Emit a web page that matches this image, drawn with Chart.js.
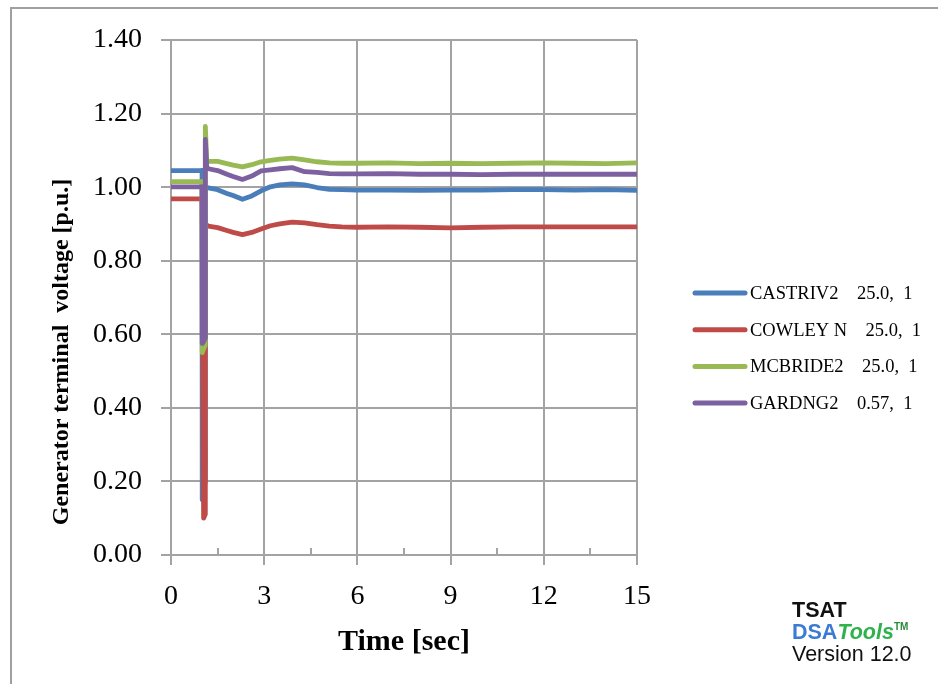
<!DOCTYPE html>
<html><head><meta charset="utf-8">
<script src="https://cdn.jsdelivr.net/npm/chart.js@4.4.1/dist/chart.umd.min.js"></script>
<style>
html,body{margin:0;padding:0;background:#fff;}
#wrap{position:relative;width:938px;height:684px;overflow:hidden;background:#fff;}
#frame{position:absolute;left:10px;top:7px;width:940px;height:690px;border-left:2px solid #a0a0a0;border-top:2px solid #a0a0a0;}
canvas{position:absolute;left:0;top:0;}
#logo{position:absolute;left:792px;top:599px;font-family:"Liberation Sans",Arial,sans-serif;font-size:21.5px;line-height:22px;color:#111;}
#logo sup{font-size:10px;vertical-align:9px;line-height:0;}
</style></head>
<body><div id="wrap"><div id="frame"></div><canvas id="c" width="938" height="684"></canvas>
<div id="logo"><div style="font-weight:bold">TSAT</div><div style="font-weight:bold"><span style="color:#3b7bd4">DSA</span><span style="color:#2fb24c;font-style:italic">Tools</span><sup style="color:#2a8a3a">TM</sup></div><div>Version 12.0</div></div>
</div>
<script>
// ---- data ----
const time     = [0, 0.5, 1.0, 1.005, 1.05, 1.1, 1.105, 1.15, 1.2, 1.5, 1.8, 2.0, 2.3, 2.6, 2.9, 3.2, 3.5, 3.9, 4.3, 4.7, 5.1, 5.5, 6, 7, 8, 9, 10, 11, 12, 13, 14, 15];
const castriv2 = [1.045, 1.045, 1.045, 0.15, 0.17, 0.20, 1.000, 1.000, 0.998, 0.993, 0.983, 0.977, 0.967, 0.976, 0.990, 1.001, 1.006, 1.009, 1.006, 0.999, 0.994, 0.993, 0.992, 0.992, 0.991, 0.992, 0.992, 0.993, 0.993, 0.992, 0.993, 0.991];
const cowleyN  = [0.968, 0.968, 0.968, 0.968, 0.10, 0.11, 0.900, 0.897, 0.894, 0.890, 0.882, 0.877, 0.871, 0.877, 0.886, 0.895, 0.900, 0.905, 0.903, 0.898, 0.894, 0.892, 0.891, 0.892, 0.891, 0.889, 0.891, 0.892, 0.892, 0.892, 0.892, 0.892];
const mcbride2 = [1.015, 1.015, 1.015, 0.55, 0.56, 0.57, 1.165, 1.075, 1.070, 1.070, 1.064, 1.060, 1.055, 1.061, 1.069, 1.073, 1.076, 1.079, 1.074, 1.069, 1.066, 1.065, 1.065, 1.066, 1.064, 1.065, 1.064, 1.065, 1.066, 1.065, 1.064, 1.066];
const gardng2  = [1.001, 1.001, 1.001, 0.575, 0.58, 0.59, 1.130, 1.055, 1.050, 1.045, 1.035, 1.029, 1.021, 1.030, 1.044, 1.047, 1.050, 1.053, 1.042, 1.040, 1.037, 1.036, 1.036, 1.037, 1.035, 1.035, 1.034, 1.035, 1.035, 1.035, 1.035, 1.035];
const seriesNames = ['CASTRIV2    25.0,  1', 'COWLEY N    25.0,  1', 'MCBRIDE2    25.0,  1', 'GARDNG2    0.57,  1'];
const xTickValues = [0, 3, 6, 9, 12, 15];
const xMinorTicks = [1.5, 4.5, 7.5, 10.5, 13.5];
const yTickValues = [0, 0.2, 0.4, 0.6, 0.8, 1.0, 1.2, 1.4];
const xTitle = 'Time [sec]';
const yTitle = 'Generator terminal  voltage [p.u.]';

const colors = ['#4A7EBB', '#BE4B48', '#98B954', '#7D60A0'];
const gridColor = '#a3a3a3';
const series = [castriv2, cowleyN, mcbride2, gardng2];

const datasets = series.map((vals, i) => ({
  label: seriesNames[i],
  data: time.map((t, j) => ({x: t, y: vals[j]})),
  borderColor: colors[i],
  backgroundColor: colors[i],
  borderWidth: 4.8,
  pointRadius: 0,
  tension: 0,
  fill: false,
  order: series.length - i,
  borderJoinStyle: 'round'
}));

const extras = {
  id: 'extras',
  afterDraw(chart) {
    const ctx = chart.ctx;
    const xs = chart.scales.x;
    const ca = chart.chartArea;
    ctx.save();
    // minor ticks (inside)
    ctx.strokeStyle = gridColor; ctx.lineWidth = 2;
    xMinorTicks.forEach(v => {
      const px = Math.round(xs.getPixelForValue(v));
      ctx.beginPath(); ctx.moveTo(px, ca.bottom); ctx.lineTo(px, ca.bottom - 7); ctx.stroke();
    });
    // y title
    ctx.fillStyle = '#000';
    ctx.font = 'bold 24px "Liberation Serif"';
    ctx.textAlign = 'center'; ctx.textBaseline = 'middle';
    ctx.translate(62, 352); ctx.rotate(-Math.PI / 2);
    ctx.fillText(yTitle, 0, 0);
    ctx.restore();
    // legend
    ctx.save();
    chart.data.datasets.forEach((ds, i) => {
      const y = 293 + i * 36.7;
      ctx.strokeStyle = ds.borderColor; ctx.lineWidth = 5; ctx.lineCap = 'round';
      ctx.beginPath(); ctx.moveTo(695, y); ctx.lineTo(745, y); ctx.stroke();
      ctx.fillStyle = '#000'; ctx.font = '18.5px "Liberation Serif"';
      ctx.textAlign = 'left'; ctx.textBaseline = 'middle';
      ctx.fillText(ds.label, 750, y + 1);
    });
    ctx.restore();
  }
};

new Chart(document.getElementById('c'), {
  type: 'line',
  data: {datasets},
  options: {
    responsive: false, animation: false, devicePixelRatio: 1,
    layout: {padding: {top: 40, right: 301, bottom: 0, left: 0}},
    plugins: {legend: {display: false}, tooltip: {enabled: false}},
    scales: {
      x: {
        type: 'linear', min: 0, max: 15,
        afterBuildTicks: s => { s.ticks = xTickValues.map(v => ({value: v})); },
        afterFit: s => { s.height = 129; },
        ticks: {font: {family: 'Liberation Serif', size: 28}, color: '#000', padding: 15, autoSkip: false, maxRotation: 0},
        grid: {color: gridColor, lineWidth: 2, tickLength: 10, drawTicks: true},
        border: {color: gridColor, width: 2},
        title: {display: true, text: xTitle, color: '#000', font: {family: 'Liberation Serif', size: 30, weight: 'bold'}, padding: {top: 0, bottom: 24}}
      },
      y: {
        type: 'linear', min: 0, max: 1.4,
        afterBuildTicks: s => { s.ticks = yTickValues.map(v => ({value: v})); },
        afterFit: s => { s.width = 171; },
        ticks: {font: {family: 'Liberation Serif', size: 28}, color: '#000', padding: 19, callback: v => Number(v).toFixed(2)},
        grid: {color: gridColor, lineWidth: 2, tickLength: 10, drawTicks: true},
        border: {color: gridColor, width: 2}
      }
    }
  },
  plugins: [extras]
});
</script>
</body></html>
